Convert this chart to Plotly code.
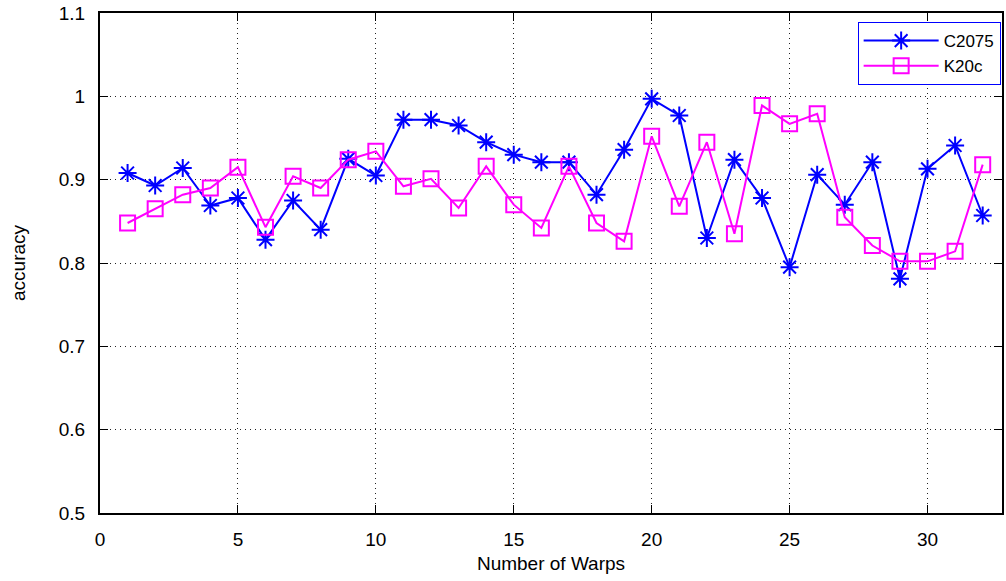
import plotly.graph_objects as go

warps = list(range(1, 33))
c2075 = [0.908, 0.893, 0.914, 0.869, 0.878, 0.828, 0.875, 0.840, 0.925, 0.905,
         0.972, 0.972, 0.965, 0.945, 0.930, 0.921, 0.921, 0.882, 0.936, 0.997,
         0.977, 0.830, 0.924, 0.878, 0.795, 0.906, 0.870, 0.921, 0.781, 0.913,
         0.941, 0.857]
k20c = [0.848, 0.865, 0.882, 0.890, 0.915, 0.843, 0.904, 0.890, 0.924, 0.934,
        0.892, 0.901, 0.866, 0.916, 0.870, 0.842, 0.916, 0.848, 0.826, 0.952,
        0.868, 0.945, 0.835, 0.989, 0.967, 0.979, 0.855, 0.821, 0.802, 0.802,
        0.814, 0.918]
x_ticks = [0, 5, 10, 15, 20, 25, 30]
y_ticks = [0.5, 0.6, 0.7, 0.8, 0.9, 1.0, 1.1]
y_labels = ["0.5", "0.6", "0.7", "0.8", "0.9", "1", "1.1"]

fig = go.Figure()
fig.add_trace(go.Scatter(
    x=warps, y=c2075, name="C2075", mode="lines+markers",
    line=dict(color="#0000ff", width=2),
    marker=dict(symbol="asterisk-open", size=15, color="#0000ff",
                line=dict(color="#0000ff", width=2)),
))
fig.add_trace(go.Scatter(
    x=warps, y=k20c, name="K20c", mode="lines+markers",
    line=dict(color="#ff00ff", width=2),
    marker=dict(symbol="square-open", size=15, color="#ff00ff",
                line=dict(color="#ff00ff", width=2)),
))

axis_common = dict(
    showline=True, linecolor="black", linewidth=2, mirror="ticks",
    ticks="inside", ticklen=8, tickcolor="black", tickwidth=1,
    showgrid=True, gridcolor="#222222", gridwidth=1, griddash="1px,4px",
    zeroline=False, tickfont=dict(size=19, color="black"),
)

fig.update_xaxes(range=[0, 32.7], tickvals=x_ticks, ticklabelstandoff=8,
                 title=dict(text="Number of Warps", font=dict(size=19, color="black"), standoff=8),
                 **axis_common)
fig.update_yaxes(range=[0.5, 1.1], tickvals=y_ticks, ticktext=y_labels, ticklabelstandoff=9,
                 title=dict(text="accuracy", font=dict(size=19, color="black"), standoff=28),
                 **axis_common)

fig.update_layout(
    width=1006, height=581,
    margin=dict(l=100, r=2, t=13, b=68),
    paper_bgcolor="white", plot_bgcolor="white",
    font=dict(family="Liberation Sans, Arial, sans-serif", size=19, color="black"),
    legend=dict(x=0.9985, y=0.982, xanchor="right", yanchor="top",
                bordercolor="#0000ff", borderwidth=1, bgcolor="white",
                font=dict(size=17), tracegroupgap=0, itemwidth=75),
    showlegend=True,
)

fig.write_html("out.html")
